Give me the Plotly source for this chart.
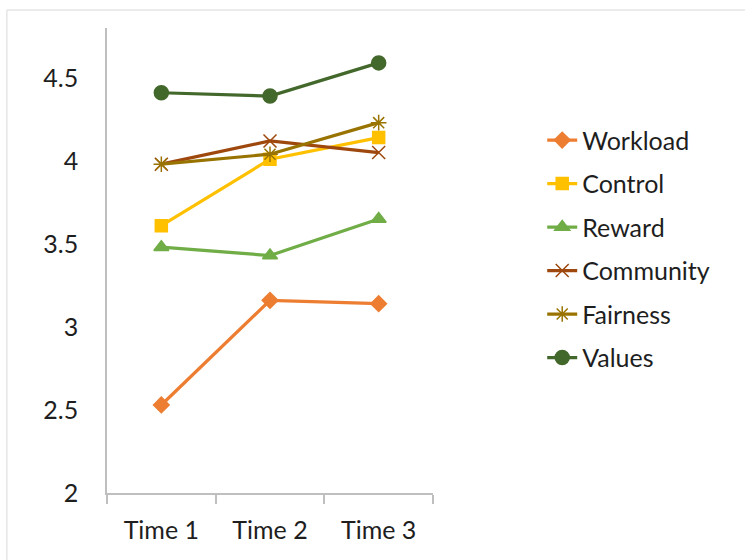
import plotly.graph_objects as go

times = ["Time 1", "Time 2", "Time 3"]

workload = [2.53, 3.16, 3.14]
control = [3.61, 4.01, 4.14]
reward = [3.48, 3.43, 3.65]
community = [3.98, 4.12, 4.05]
fairness = [3.98, 4.04, 4.23]
values = [4.41, 4.39, 4.59]

series = [
    ("Workload", workload, "#ED7D31", "diamond", 12),
    ("Control", control, "#FFC000", "square", 12),
    ("Reward", reward, "#70AD47", "triangle-up", 13),
    ("Community", community, "#9E480E", "x-thin-open", 13),
    ("Fairness", fairness, "#997300", "asterisk-open", 13),
    ("Values", values, "#43682B", "circle", 14),
]

fig = go.Figure()
for name, ys, color, symbol, size in series:
    fig.add_trace(go.Scatter(
        x=times, y=ys, name=name, mode="lines+markers",
        legendgroup=name,
        line=dict(color=color, width=3.2),
        marker=dict(symbol=symbol, size=size, color=color,
                    line=dict(color=color, width=1.5)),
    ))

font_family = "Lato, 'Open Sans', sans-serif"

fig.update_layout(
    width=745, height=560,
    margin=dict(l=107, r=312, t=28, b=67),
    paper_bgcolor="white", plot_bgcolor="white",
    font=dict(family=font_family, size=25, color="#1e1e1e"),
    showlegend=True,
    legend=dict(
        x=1.335, y=0.808, xanchor="left", yanchor="top",
        font=dict(size=25, color="#1e1e1e"),
        tracegroupgap=8,
        bgcolor="rgba(0,0,0,0)",
    ),
    xaxis=dict(
        type="category", range=[-0.5, 2.5],
        showline=True, linecolor="#bfbfbf", linewidth=1.5,
        ticks="outside", ticklen=9, tickcolor="#bfbfbf", tickwidth=1.5,
        tickson="boundaries", showgrid=False, zeroline=False,
        ticklabelstandoff=14,
        tickfont=dict(size=25),
    ),
    yaxis=dict(
        range=[2, 4.8], tickvals=[2, 2.5, 3, 3.5, 4, 4.5],
        ticktext=["2", "2.5", "3", "3.5", "4", "4.5"],
        showline=True, linecolor="#bfbfbf", linewidth=1.5,
        ticks="", showgrid=False, zeroline=False,
        ticklabelstandoff=22,
        tickfont=dict(size=25),
    ),
    shapes=[
        dict(type="rect", xref="paper", yref="paper",
             x0=-0.307, x1=2.2, y0=-0.5, y1=1.0387,
             line=dict(color="#d9d9d9", width=1), layer="below"),
    ],
)

fig.write_html("out.html")
